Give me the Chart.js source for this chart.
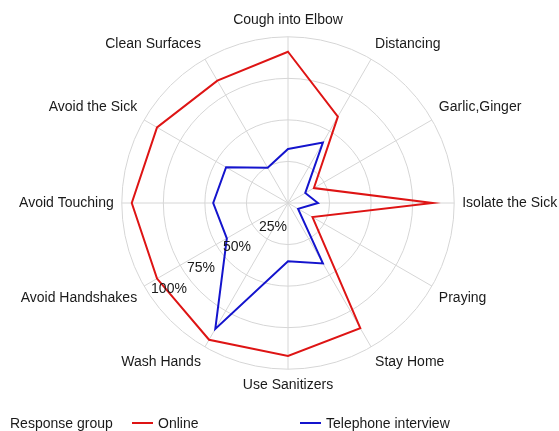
<!DOCTYPE html>
<html>
<head>
<meta charset="utf-8">
<script src="https://cdn.jsdelivr.net/npm/chart.js@4.4.1/dist/chart.umd.min.js"></script>
<style>
  html, body { margin: 0; padding: 0; background: #fff; overflow: hidden; }
  #wrap { position: relative; width: 578px; height: 431px; }
  #legend { position: absolute; left: 10px; top: 414px; font: 14px 'Liberation Sans', Arial, sans-serif; color: #1a1a1a; white-space: nowrap; }
  #legend span { position: absolute; top: 0; line-height: 18px; }
  #legend i { position: absolute; top: 8px; width: 21px; height: 2px; }
</style>
</head>
<body>
<div id="wrap">
  <canvas id="myChart"></canvas>
  <div id="legend"></div>
</div>
<script>
const categories = ['Cough into Elbow', 'Distancing', 'Garlic,Ginger', 'Isolate the Sick', 'Praying', 'Stay Home',
    'Use Sanitizers', 'Wash Hands', 'Avoid Handshakes', 'Avoid Touching', 'Avoid the Sick', 'Clean Surfaces'];
const online = [91, 60, 18, 87, 17, 87, 92, 95, 91, 94, 91, 85];
const telephone = [32.5, 42, 12, 18, 7, 42, 35, 87.5, 42.5, 45, 43, 24.5];
const tickValues = [25, 50, 75, 100];
const tickLabels = ['25%', '50%', '75%', '100%'];
const legendTitle = 'Response group';

const labelFont = "14px 'Liberation Sans', Arial, sans-serif";

// tick labels sit along the "Avoid Handshakes" spoke, like the original
const tickLabelPlugin = {
    id: 'tickLabels',
    afterDatasetsDraw(chart) {
        const scale = chart.scales.r;
        const ctx = chart.ctx;
        ctx.save();
        ctx.font = labelFont;
        ctx.fillStyle = '#1a1a1a';
        ctx.textAlign = 'left';
        ctx.textBaseline = 'middle';
        tickValues.forEach((v, i) => {
            const p = scale.getPointPositionForValue(8, v);
            ctx.fillText(tickLabels[i], p.x + 7, p.y + 3);
        });
        ctx.restore();
    }
};

const ctx = document.getElementById('myChart').getContext('2d');
const myChart = new Chart(ctx, {
    type: 'radar',
    data: {
        labels: categories,
        datasets: [
            {
                label: 'Online',
                data: online,
                borderColor: 'rgb(222,20,20)',
                borderWidth: 2,
                fill: false,
                pointRadius: 0
            },
            {
                label: 'Telephone interview',
                data: telephone,
                borderColor: 'rgb(20,20,205)',
                borderWidth: 2,
                fill: false,
                pointRadius: 0
            }
        ]
    },
    options: {
        responsive: true,
        maintainAspectRatio: false,
        animation: false,
        layout: { padding: { top: 13, bottom: 36, left: 0, right: 0 } },
        elements: { line: { tension: 0 } },
        scales: {
            r: {
                min: 0,
                max: 100,
                ticks: { display: false, stepSize: 25 },
                grid: { color: '#d6d6d6', lineWidth: 1, circular: true },
                angleLines: { color: '#d6d6d6', lineWidth: 1 },
                pointLabels: {
                    color: '#1a1a1a',
                    padding: 8,
                    font: { family: "'Liberation Sans', Arial, sans-serif", size: 14 }
                }
            }
        },
        plugins: {
            legend: { display: false },
            tooltip: { enabled: false }
        }
    },
    plugins: [tickLabelPlugin]
});

// legend: title then line samples for each dataset
const legend = document.getElementById('legend');
const itemX = [0, 122, 290];
let html = '<span style="left:' + itemX[0] + 'px">' + legendTitle + '</span>';
myChart.data.datasets.forEach((ds, i) => {
    const x = itemX[i + 1];
    html += '<i style="left:' + x + 'px;background:' + ds.borderColor + '"></i>';
    html += '<span style="left:' + (x + 26) + 'px">' + ds.label + '</span>';
});
legend.innerHTML = html;
</script>
</body>
</html>
